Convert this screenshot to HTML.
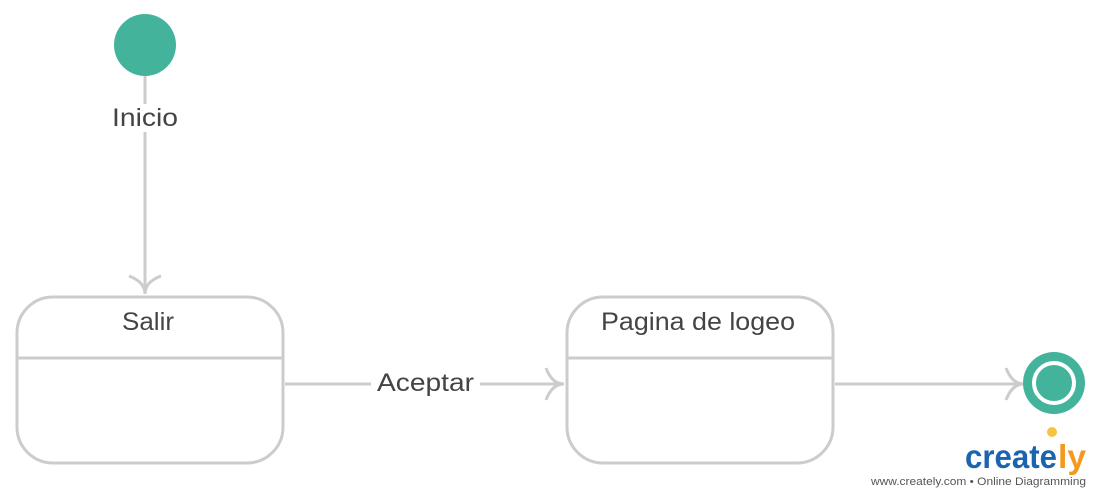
<!DOCTYPE html>
<html><head><meta charset="utf-8"><style>
html,body{margin:0;padding:0;background:#fff;width:1100px;height:497px;overflow:hidden}
text{font-family:"Liberation Sans",sans-serif}
</style></head><body>
<svg width="1100" height="497" viewBox="0 0 1100 497">
<circle cx="145" cy="45" r="31" fill="#44b39c"/>
<line x1="145" y1="76" x2="145" y2="294" stroke="#ccc" stroke-width="3"/>
<rect x="110" y="104" width="70" height="28" fill="#fff"/>
<path d="M129 276 Q145 282 145 294 Q145 282 161 276" fill="none" stroke="#ccc" stroke-width="3"/>
<text x="112" y="126" font-size="25" fill="#444" textLength="66" lengthAdjust="spacingAndGlyphs">Inicio</text>
<rect x="17" y="297" width="266" height="166" rx="36" fill="#fff" stroke="#ccc" stroke-width="3"/>
<line x1="17" y1="358" x2="283" y2="358" stroke="#ccc" stroke-width="3"/>
<text x="122" y="330" font-size="25" fill="#444" textLength="52" lengthAdjust="spacingAndGlyphs">Salir</text>
<rect x="567" y="297" width="266" height="166" rx="36" fill="#fff" stroke="#ccc" stroke-width="3"/>
<line x1="567" y1="358" x2="833" y2="358" stroke="#ccc" stroke-width="3"/>
<text x="601" y="330" font-size="25" fill="#444" textLength="194" lengthAdjust="spacingAndGlyphs">Pagina de logeo</text>
<line x1="285" y1="384" x2="371" y2="384" stroke="#ccc" stroke-width="3"/>
<line x1="480" y1="384" x2="564" y2="384" stroke="#ccc" stroke-width="3"/>
<path d="M546 368 Q552 384 564 384 Q552 384 546 400" fill="none" stroke="#ccc" stroke-width="3"/>
<text x="377" y="391" font-size="25" fill="#444" textLength="97" lengthAdjust="spacingAndGlyphs">Aceptar</text>
<line x1="835" y1="384" x2="1022" y2="384" stroke="#ccc" stroke-width="3"/>
<path d="M1006 368 Q1012 384 1024 384 Q1012 384 1006 400" fill="none" stroke="#ccc" stroke-width="3"/>
<circle cx="1054" cy="383" r="31" fill="#44b39c"/>
<circle cx="1054" cy="383" r="20" fill="none" stroke="#fff" stroke-width="4"/>
<circle cx="1052" cy="432" r="5" fill="#f5c542"/>
<text x="965" y="468" font-size="33" fill="#1a64b0" font-weight="bold" textLength="92" lengthAdjust="spacingAndGlyphs">create</text>
<text x="1058" y="468" font-size="33" fill="#f39a1e" font-weight="bold" textLength="28" lengthAdjust="spacingAndGlyphs">ly</text>
<text x="871" y="485" font-size="11" fill="#555" textLength="215" lengthAdjust="spacingAndGlyphs">www.creately.com • Online Diagramming</text>
</svg>
</body></html>
